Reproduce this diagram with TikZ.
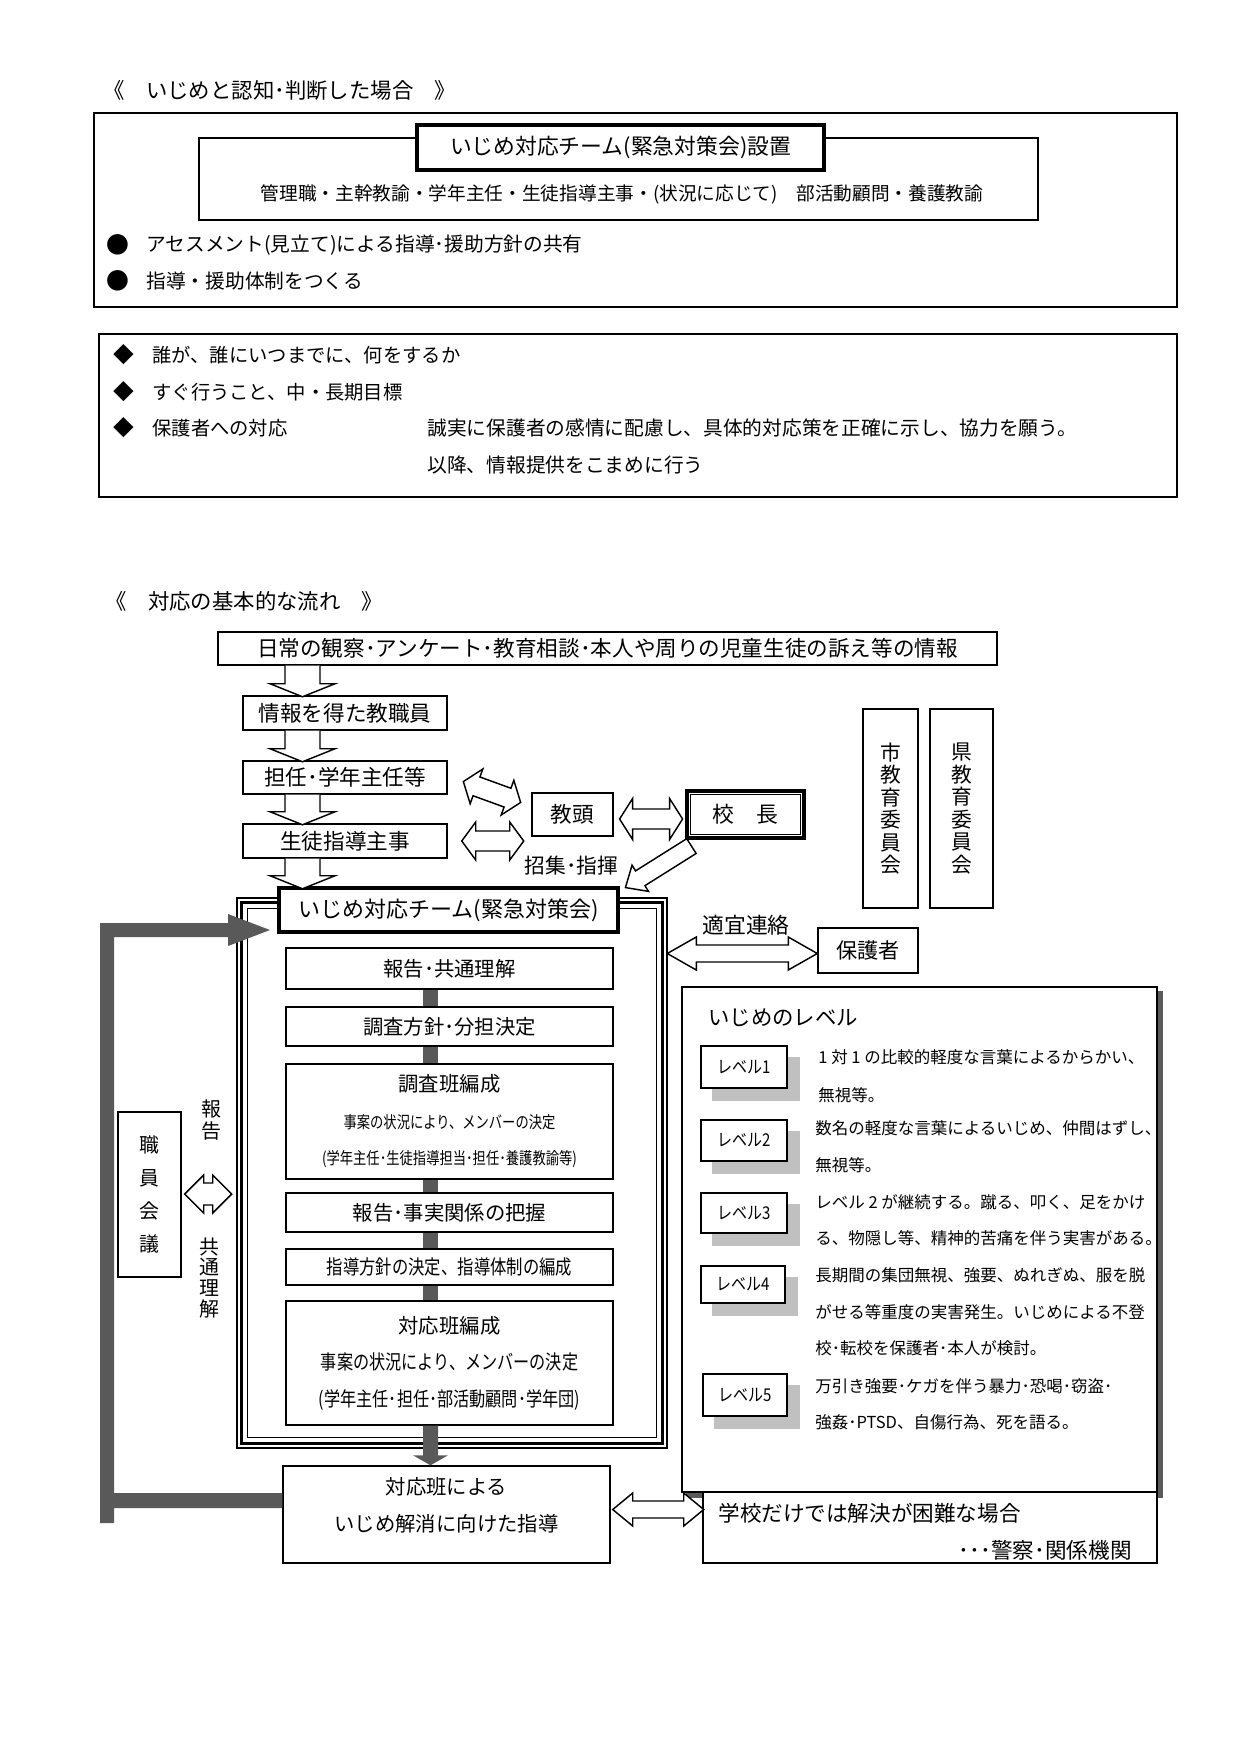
\documentclass[tikz,border=0pt]{standalone}
\usepackage{fontspec}
\usepackage{graphicx}
\setmainfont{Noto Sans CJK JP}
\usetikzlibrary{calc,fit,shadows}
\newcommand\fz[1]{\fontsize{#1}{#1}\selectfont}
\newcommand\cond[2]{\scalebox{#1}[1]{#2}}
\definecolor{barg}{HTML}{595959}
\definecolor{lshadow}{HTML}{C0C0C0}
\definecolor{pshadow}{HTML}{5A5A5A}
\begin{document}
\begin{tikzpicture}[x=0.48178pt,y=-0.48178pt,
  bx/.style={draw,line width=0.7pt,fill=white,inner sep=0pt,align=center},
  thickbx/.style={bx,line width=1.9pt},
  tin/.style 2 args={label={[inner sep=0pt,align=center,font=#1]center:{#2}}},
  txt/.style={inner sep=0pt,anchor=west},
  lt/.style={txt,font=\fz{7.95}},
  hol/.style={draw,line width=0.7pt,fill=white,line join=miter},
  lshad/.style={copy shadow={shadow xshift=5.8pt,shadow yshift=-5.8pt,fill=lshadow,draw=lshadow}},
  pshad/.style={copy shadow={shadow xshift=2.4pt,shadow yshift=-2.4pt,fill=pshadow,draw=pshadow}},
  pics/dbl/.style args={#1/#2/#3/#4}{code={\draw[hol] ({-#1/2},0) -- ({-#1/2+#2},{-#3}) -- ({-#1/2+#2},{-#4}) -- ({#1/2-#2},{-#4}) -- ({#1/2-#2},{-#3}) -- ({#1/2},0) -- ({#1/2-#2},{#3}) -- ({#1/2-#2},{#4}) -- ({-#1/2+#2},{#4}) -- ({-#1/2+#2},{#3}) -- cycle;}},
  pics/dn/.style args={#1/#2}{code={\draw[hol] (-17.5,0) -- (-17.5,{#1-#2}) -- (-32.5,{#1-#2}) -- (0,#1) -- (32.5,{#1-#2}) -- (17.5,{#1-#2}) -- (17.5,0);}},
]
\useasboundingbox (0,0) rectangle (1241,1755);
\fill[white] (0,0) rectangle (1241,1755);

% ---------- Section 1 ----------
\node[txt,font=\fz{10.3}] (t1) at (103,90) {《　いじめと認知･判断した場合　》};
\node[bx,fit={(94,113)(1177,307)}] (box1) {};
\node[bx,fit={(199,138)(1038,220)}] (inner1) {};
\node[thickbx,fit={(417,125)(824,170)},tin={\fz{10.5}}{いじめ対応チーム(緊急対策会)設置}] (setchi) {};
\node[inner sep=0pt,font=\fz{9}] (mem) at (622,194) {管理職・主幹教諭・学年主任・生徒指導主事・(状況に応じて)　部活動顧問・養護教諭};
\node[inner sep=0pt,font=\fz{11}] (b1) at (118,245) {●};
\node[txt,font=\fz{9.5}] (b1t) at (146,245) {アセスメント(見立て)による指導･援助方針の共有};
\node[inner sep=0pt,font=\fz{11}] (b2) at (118,281) {●};
\node[txt,font=\fz{9.5}] (b2t) at (146,281) {指導・援助体制をつくる};

\node[bx,fit={(99,334)(1177,497)}] (box2) {};
\node[inner sep=0pt,font=\fz{10}] (d1) at (124,355) {◆};
\node[txt,font=\fz{9.3}] (d1t) at (152,355) {誰が、誰にいつまでに、何をするか};
\node[inner sep=0pt,font=\fz{10}] (d2) at (124,392) {◆};
\node[txt,font=\fz{9.3}] (d2t) at (152,392) {すぐ行うこと、中・長期目標};
\node[inner sep=0pt,font=\fz{10}] (d3) at (124,428) {◆};
\node[txt,font=\fz{9.3}] (d3t) at (152,428) {保護者への対応};
\node[txt,font=\fz{9.5}] (d3u) at (427,428) {誠実に保護者の感情に配慮し、具体的対応策を正確に示し、協力を願う。};
\node[txt,font=\fz{9.5}] (d4u) at (427,465) {以降、情報提供をこまめに行う};

% ---------- Section 2 ----------
\node[txt,font=\fz{10.3}] (t2) at (105,601) {《　対応の基本的な流れ　》};

\node[bx,fit={(218,632)(997,665)},tin={\fz{10.4}}{日常の観察･アンケート･教育相談･本人や周りの児童生徒の訴え等の情報}] (info) {};
\node[bx,fit={(243,696)(447,730)},tin={\fz{10.4}}{情報を得た教職員}] (e1) {};
\node[bx,fit={(243,761)(447,794)},tin={\fz{10.4}}{担任･学年主任等}] (e2) {};
\node[bx,fit={(243,824)(447,858)},tin={\fz{10.4}}{生徒指導主事}] (e3) {};
\node[bx,fit={(532,793)(613,836)},tin={\fz{10.4}}{教頭}] (kyoto) {};
\node[bx,line width=1.5pt,fit={(687,791)(804,838)},tin={\fz{10.5}}{校　長}] (kocho) {};
\draw[line width=0.7pt] ($(kocho.north west)+(5,5)$) rectangle ($(kocho.south east)+(-5,-5)$);
\node[bx,fit={(863,709)(918,908)},tin={\fontsize{10}{10.8}\selectfont}{市\\教\\育\\委\\員\\会}] (shi) {};
\node[bx,fit={(930,709)(993,908)},tin={\fontsize{10}{10.8}\selectfont}{県\\教\\育\\委\\員\\会}] (ken) {};

\coordinate (ax) at (302.5,0);
\pic at (info.south -| ax) {dn=31/13};
\pic at (e1.south -| ax) {dn=31/13};
\pic at (e2.south -| ax) {dn=30/13};

\pic[rotate=-20] at ($(e2.east)!0.5!(kyoto.west)+(2.5,-4)$) {dbl=61/14/18.5/10};
\pic at ($(e3.east)+(45,0)$) {dbl=62/14/19/10};
\pic at ($(kyoto.east)!0.5!(kocho.west)+(1.5,4.5)$) {dbl=63/13/20.5/10};
\node[inner sep=0pt,font=\fz{10}] (shoshu) at (571.5,866) {招集･指揮};

% team frame
\node[bx,fit={(237,898)(667,1448)}] (frame) {};
\draw[line width=1.4pt] ($(frame.north west)+(5,5)$) rectangle ($(frame.south east)+(-5,-5)$);
\draw[line width=0.7pt] ($(frame.north west)+(11,11)$) rectangle ($(frame.south east)+(-11,-11)$);
\node[thickbx,fit={(279,888)(618,932)},tin={\fz{10.6}}{いじめ対応チーム(緊急対策会)}] (team) {};
\pic at (e3.south -| ax) {dn=30/13};

% big arrow from kocho
\draw[hol] ($(kocho.south west)+(1.3,-0.9)$) -- ++(-51.2,32.2) -- ++(-3.5,-5.7) -- ++(-6.6,22.4) -- ++(23,3.8) -- ++(-3.5,-5.7) -- ++(51.2,-32.2) -- cycle;

\node[bx,fit={(286,948)(613,989)},tin={\fz{9.8}}{報告･共通理解}] (s1) {};
\node[bx,fit={(286,1007)(613,1046)},tin={\fz{9.8}}{調査方針･分担決定}] (s2) {};
\node[bx,fit={(286,1064)(613,1179)},tin={\fontsize{8}{17.6}\selectfont}{{\fontsize{9.8}{17.6}\selectfont 調査班編成}\\\cond{0.8}{事案の状況により、メンバーの決定}\\\cond{0.8}{(学年主任･生徒指導担当･担任･養護教諭等)}}] (s3) {};
\node[bx,fit={(286,1193)(613,1232)},tin={\fz{9.8}}{報告･事実関係の把握}] (s4) {};
\node[bx,fit={(286,1249)(613,1285)},tin={\fz{9.6}}{\cond{0.82}{指導方針の決定、指導体制の編成}}] (s5) {};
\node[bx,fit={(286,1301)(613,1425)},tin={\fontsize{9.6}{17.6}\selectfont}{{\fontsize{9.8}{17.6}\selectfont 対応班編成}\\\cond{0.81}{事案の状況により、メンバーの決定}\\\cond{0.81}{(学年主任･担任･部活動顧問･学年団)}}] (s6) {};
\node[bx,fit={(283,1466)(610,1563)}] (res) {};
\node[inner sep=0pt,align=center,font={\fontsize{9.8}{17.6}\selectfont}] (resT) at ($(res.center)+(0,-9.5)$) {対応班による\\いじめ解消に向けた指導};

\coordinate (gx) at (430.5,0);
\foreach \a/\b in {s1/s2,s2/s3,s3/s4,s4/s5,s5/s6}
  \fill[barg] ($(\a.south -| gx)+(-7.5,0)$) rectangle ($(\b.north -| gx)+(7.5,0)$);
\fill[barg] ($(s6.south -| gx)+(-7.5,0)$) -- ($(res.north -| gx)+(-7.5,-10)$) -- ++(-10,0) -- (res.north -| gx) -- ($(res.north -| gx)+(17.5,-10)$) -- ++(-10,0) -- ($(s6.south -| gx)+(7.5,0)$) -- cycle;

% loop arrow
\coordinate (tip) at (270,930);
\fill[barg] ($(res.west)+(0,-21.5)$) -- (114,1493) -- (114,937) -- (228,937) -- (228,946) -- (tip) -- (228,914) -- (228,923) -- (100,923) -- (100,1523) -- (114,1523) -- (114,1508) -- ($(res.west)+(0,-6.5)$) -- cycle;

% staff meeting
\node[bx,fit={(118,1112)(181,1277)},tin={\fontsize{9.6}{15.9}\selectfont}{職\\員\\会\\議}] (staff) {};
\node[inner sep=0pt,align=center,font={\fontsize{9.6}{10.6}\selectfont}] (hou) at (211,1120) {報\\告};
\node[inner sep=0pt,align=center,font={\fontsize{9.6}{10.1}\selectfont}] (kyo) at (209,1278) {共\\通\\理\\解};
\pic at ($(staff.east)+(26.5,-0.5)$) {dbl=47/19/19/11};

% parents
\node[bx,fit={(818,928)(918,973)},tin={\fz{10.2}}{保護者}] (hogosha) {};
\node[inner sep=0pt,font=\fz{10.5}] (tekigi) at (746,925) {適宜連絡};
\pic at ($(hogosha.west)+(-75,3)$) {dbl=150/29/16.5/8.5};

% levels panel
\node[bx,pshad,fit={(682,987)(1157,1492)}] (panel) {};
\node[txt,font=\fz{10.3}] (lvtitle) at (708,1018) {いじめのレベル};
\node[bx,lshad,fit={(701,1046)(787,1088)},tin={\fz{8.5}}{\cond{0.85}{レベル1}}] (L1) {};
\node[bx,lshad,fit={(701,1120)(787,1161)},tin={\fz{8.5}}{\cond{0.85}{レベル2}}] (L2) {};
\node[bx,lshad,fit={(701,1193)(787,1233)},tin={\fz{8.5}}{\cond{0.85}{レベル3}}] (L3) {};
\node[bx,lshad,fit={(701,1266)(785,1303)},tin={\fz{8.5}}{\cond{0.85}{レベル4}}] (L4) {};
\node[bx,lshad,fit={(703,1374)(787,1416)},tin={\fz{8.5}}{\cond{0.85}{レベル5}}] (L5) {};
\node[lt] (l1a) at (818,1057) {1 対 1 の比較的軽度な言葉によるからかい、};
\node[lt] (l1b) at (818,1095) {無視等。};
\node[lt] (l2a) at (815,1128) {数名の軽度な言葉によるいじめ、仲間はずし、};
\node[lt] (l2b) at (815,1165) {無視等。};
\node[lt] (l3a) at (815,1202) {レベル 2 が継続する。蹴る、叩く、足をかけ};
\node[lt] (l3b) at (815,1238) {る、物隠し等、精神的苦痛を伴う実害がある。};
\node[lt] (l4a) at (815,1275) {長期間の集団無視、強要、ぬれぎぬ、服を脱};
\node[lt] (l4b) at (815,1312) {がせる等重度の実害発生。いじめによる不登};
\node[lt] (l4c) at (815,1348) {校･転校を保護者･本人が検討。};
\node[lt] (l5a) at (815,1386) {万引き強要･ケガを伴う暴力･恐喝･窃盗･};
\node[lt] (l5b) at (815,1422) {強姦･PTSD、自傷行為、死を語る。};

% police
\node[bx,fit={(703,1492)(1157,1563)}] (police) {};
\node[txt,font=\fz{10.4}] (policeA) at (718,1513) {学校だけでは解決が困難な場合};
\node[inner sep=0pt,anchor=east,font=\fz{10.4}] (policeB) at (1132,1550) {･･･警察･関係機関};
\pic at ($(res.east)+(47.5,-5)$) {dbl=91/20/16.5/8.5};
\end{tikzpicture}
\end{document}
